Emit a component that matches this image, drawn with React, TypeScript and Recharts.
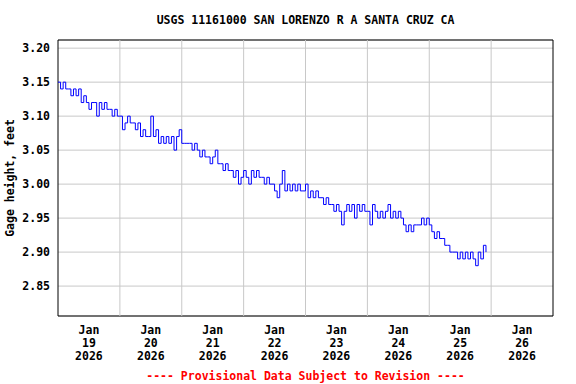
import React from "react";
import {
  LineChart,
  Line,
  XAxis,
  YAxis,
  CartesianGrid,
  ReferenceLine,
  ReferenceArea,
} from "recharts";

// hourly gage height readings (ft), one array per day, starting 00:00
const jan19 = [
  3.15, 3.14, 3.15, 3.14, 3.14, 3.13, 3.14, 3.13, 3.14, 3.12, 3.13, 3.12,
  3.11, 3.12, 3.12, 3.1, 3.12, 3.11, 3.12, 3.11, 3.11, 3.1, 3.11, 3.1,
];
const jan20 = [
  3.1, 3.08, 3.09, 3.1, 3.09, 3.09, 3.08, 3.09, 3.07, 3.08, 3.07, 3.07,
  3.1, 3.07, 3.08, 3.06, 3.07, 3.06, 3.07, 3.06, 3.07, 3.05, 3.07, 3.08,
];
const jan21 = [
  3.06, 3.06, 3.06, 3.06, 3.05, 3.06, 3.05, 3.04, 3.05, 3.04, 3.04, 3.03,
  3.04, 3.05, 3.03, 3.03, 3.02, 3.03, 3.02, 3.02, 3.01, 3.02, 3.0, 3.01,
];
const jan22 = [
  3.02, 3.01, 3.0, 3.02, 3.01, 3.02, 3.01, 3.01, 3.0, 3.01, 3.0, 3.0,
  2.99, 2.98, 3.0, 3.02, 2.99, 3.0, 2.99, 3.0, 2.99, 3.0, 2.99, 2.99,
];
const jan23 = [
  3.0, 2.98, 2.99, 2.98, 2.99, 2.98, 2.98, 2.97, 2.98, 2.97, 2.97, 2.96,
  2.97, 2.96, 2.94, 2.96, 2.97, 2.96, 2.97, 2.95, 2.97, 2.96, 2.97, 2.96,
];
const jan24 = [
  2.96, 2.94, 2.97, 2.96, 2.95, 2.96, 2.95, 2.96, 2.97, 2.95, 2.96, 2.95,
  2.96, 2.95, 2.94, 2.93, 2.94, 2.93, 2.94, 2.94, 2.94, 2.95, 2.94, 2.95,
];
const jan25 = [
  2.94, 2.93, 2.92, 2.93, 2.92, 2.92, 2.91, 2.91, 2.9, 2.9, 2.9, 2.89,
  2.9, 2.89, 2.9, 2.89, 2.9, 2.89, 2.88, 2.9, 2.89, 2.91, 2.9,
];

const dayLabels = ["19", "20", "21", "22", "23", "24", "25", "26"];
const dayLabelHours = [12, 36, 60, 84, 108, 132, 156, 180];
const midnightHours = [24, 48, 72, 96, 120, 144, 168];
const yTicks = [2.85, 2.9, 2.95, 3.0, 3.05, 3.1, 3.15, 3.2];

const Y_MIN = 2.806;
const Y_MAX = 3.212;
const X_MAX = 192;

const data = [jan19, jan20, jan21, jan22, jan23, jan24, jan25]
  .flat()
  .map((v, i) => ({ h: i, v }));

const FONT = "'DejaVu Sans Mono', monospace";
const FS = 11.5;
const GRID = "#c8c8c8";

// three-line date label: Jan / day / year
const DateTick: React.FC<any> = (p) => {
  const { x = 0, y = 0, index = 0 } = p;
  const t = { textAnchor: "middle" as const, fontSize: FS, fontWeight: "bold", fontFamily: FONT, fill: "#000" };
  return (
    <g>
      <text x={x} y={y + 18} {...t}>
        Jan
      </text>
      <text x={x} y={y + 31} {...t}>
        {dayLabels[index]}
      </text>
      <text x={x} y={y + 44} {...t}>
        2026
      </text>
    </g>
  );
};

export default function App() {
  return (
    <div
      style={{
        position: "absolute",
        left: 0,
        top: 0,
        width: 576,
        height: 384,
        background: "#fff",
        fontFamily: FONT,
      }}
    >
      <div
        style={{
          position: "absolute",
          left: 58,
          width: 495,
          top: 12,
          textAlign: "center",
          fontSize: FS,
          fontWeight: "bold",
          lineHeight: "16px",
        }}
      >
        USGS 11161000 SAN LORENZO R A SANTA CRUZ CA
      </div>

      <LineChart
        width={576}
        height={384}
        data={data}
        margin={{ top: 40, right: 23, left: 0, bottom: 0 }}
      >
        <CartesianGrid stroke={GRID} vertical={false} />
        {midnightHours.map((h) => (
          <ReferenceLine key={h} x={h} stroke={GRID} />
        ))}
        <XAxis
          type="number"
          dataKey="h"
          domain={[0, X_MAX]}
          ticks={dayLabelHours}
          interval={0}
          tick={<DateTick />}
          tickLine={false}
          tickSize={0}
          tickMargin={0}
          axisLine={false}
          height={68}
        />
        <YAxis
          type="number"
          domain={[Y_MIN, Y_MAX]}
          ticks={yTicks}
          interval={0}
          width={58}
          tickLine={false}
          axisLine={false}
          tickFormatter={(v) => Number(v).toFixed(2)}
          tick={{ fontSize: FS, fontWeight: "bold", fontFamily: FONT, fill: "#000" }}
          label={{
            value: "Gage height, feet",
            angle: -90,
            position: "insideLeft",
            offset: 10,
            style: { fontSize: FS, fontWeight: "bold", fontFamily: FONT, fill: "#000", textAnchor: "middle" },
          }}
        />
        <Line
          type="stepAfter"
          dataKey="v"
          stroke="#0000ff"
          strokeWidth={1}
          dot={false}
          isAnimationActive={false}
        />
        <ReferenceArea
          x1={0}
          x2={X_MAX}
          y1={Y_MIN}
          y2={Y_MAX}
          fill="none"
          stroke="#000"
          strokeWidth={1}
        />
      </LineChart>

      <div
        style={{
          position: "absolute",
          left: 58,
          width: 495,
          top: 368,
          textAlign: "center",
          fontSize: FS,
          fontWeight: "bold",
          lineHeight: "16px",
          color: "#ff0000",
        }}
      >
        ---- Provisional Data Subject to Revision ----
      </div>
    </div>
  );
}
